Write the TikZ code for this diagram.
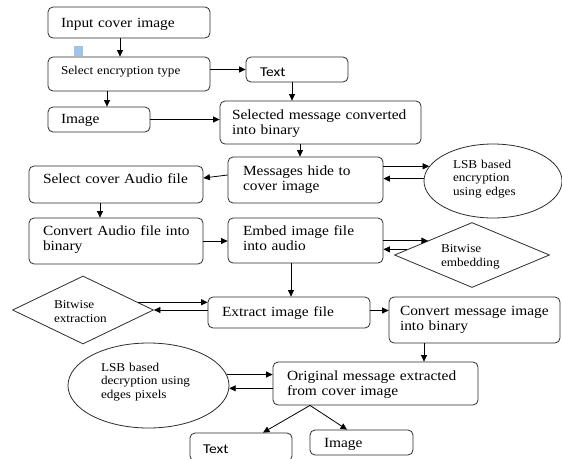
\documentclass[tikz,border=0pt]{standalone}
\usepackage{fontspec}
\setmainfont{Liberation Serif}[FakeStretch=1.1]
\newfontfamily\sansfam{Carlito}[FakeStretch=1.15]
\usetikzlibrary{arrows.meta,shapes.geometric}
\definecolor{lineclr}{RGB}{45,45,45}
\definecolor{blueart}{RGB}{158,196,234}
\begin{document}
\begin{tikzpicture}[x=1pt,y=-1pt,
  >={Triangle[length=6.5pt,width=6pt]},
  box/.style={draw=lineclr, line width=0.8pt, rounded corners=5pt, inner sep=0pt, align=left,
              font=\fontsize{14}{15}\selectfont},
  small/.style={font=\fontsize{12}{13.5}\selectfont},
  sans/.style={font=\sansfam\fontsize{13.5}{15}\selectfont},
  ell/.style={draw=lineclr, line width=0.8pt, ellipse, inner sep=0pt, align=left,
              font=\fontsize{12}{13.5}\selectfont},
  dia/.style={draw=lineclr, line width=0.8pt, diamond, inner sep=0pt, align=left,
              font=\fontsize{12}{13.5}\selectfont},
  arr/.style={->, draw=black, line width=0.8pt}]
\useasboundingbox (0,0) rectangle (562,458);
\fill[white] (0,0) rectangle (562,458);
\fill[blueart] (74,46) rectangle (83,56);

\node[box, minimum width=162pt, minimum height=31pt, text width=136pt, text height=20pt, text depth=11pt] (n1) at (129,22.5) {Input cover image};
\node[box, small, minimum width=162pt, minimum height=34pt, text width=136pt, text height=17.5pt, text depth=16.5pt] (n2) at (129,74) {Select encryption type};
\node[box, sans, minimum width=102pt, minimum height=25pt, text width=74pt, text height=19pt, text depth=6pt] (n3) at (297,69.5) {Text};
\node[box, minimum width=102pt, minimum height=25pt, text width=76pt, text height=16pt, text depth=9pt] (n4) at (99,119.5) {Image};
\node[box, minimum width=201pt, minimum height=43pt, text width=177pt, text height=18pt, text depth=25pt] (n5) at (320.5,122.5) {\mbox{Selected message converted}\\into binary};
\node[box, minimum width=155pt, minimum height=46pt, text width=125pt, text height=18pt, text depth=28pt] (n6) at (305.5,180) {Messages hide to\\cover image};
\node[ell, minimum width=138pt, minimum height=74pt, text width=80pt, text height=7pt, text depth=33pt] (e1) at (493,181) {LSB based\\encryption\\using edges};
\node[box, minimum width=174pt, minimum height=37pt, text width=146pt, text height=17pt, text depth=20pt] (n8) at (116,184.5) {Select cover Audio file};
\node[box, minimum width=174pt, minimum height=46pt, text width=146pt, text height=17pt, text depth=29pt] (n9) at (116,241) {\mbox{Convert Audio file into}\\binary};
\node[box, minimum width=155pt, minimum height=45pt, text width=125pt, text height=17pt, text depth=28pt] (n10) at (305.5,240.5) {Embed image file\\into audio};
\node[dia, minimum width=155pt, minimum height=65pt, shape aspect=2.4, text width=62pt, text height=12.7pt, text depth=17.3pt] (d1) at (472,255) {Bitwise\\embedding};
\node[dia, minimum width=141pt, minimum height=68pt, shape aspect=2.07, text width=58pt, text height=10.7pt, text depth=13.3pt] (d2) at (83,310) {Bitwise\\extraction};
\node[box, minimum width=162pt, minimum height=31pt, text width=134pt, text height=19pt, text depth=12pt] (n13) at (289,312.5) {Extract image file};
\node[box, minimum width=171pt, minimum height=46pt, text width=149pt, text height=18pt, text depth=28pt] (n14) at (474.5,320) {\mbox{Convert message image}\\into binary};
\node[ell, minimum width=161pt, minimum height=85pt, text width=95pt, text height=7.5pt, text depth=36.5pt] (e2) at (148.5,385.5) {LSB based\\decryption using\\edges pixels};
\node[box, minimum width=205pt, minimum height=43pt, text width=177pt, text height=18pt, text depth=25pt] (n16) at (375.5,383.5) {\mbox{Original message extracted}\\from cover image};
\node[box, sans, minimum width=102pt, minimum height=28pt, text width=76pt, text height=20pt, text depth=8pt] (n17) at (241,447) {Text};
\node[box, minimum width=103pt, minimum height=25pt, text width=75pt, text height=17pt, text depth=8pt] (n18) at (361.5,442.5) {Image};

\draw[arr] ([xshift=-9pt]n1.south) -- ([xshift=-9pt]n2.north);
\draw[arr] (n2.east |- n3.west) -- (n3.west);
\draw[arr] ([xshift=-5pt]n3.south) -- ([xshift=-5pt]n3.south |- n5.north);
\draw[arr] ([xshift=-22pt]n2.south) -- ([xshift=-22pt]n2.south |- n4.north);
\draw[arr] (n4.east) -- (n4.east -| n5.west);
\draw[arr] ([xshift=-20.5pt]n5.south) -- ([xshift=-20.5pt]n5.south |- n6.north);
\draw[arr] (n6.east |- e1.167) -- (e1.167);
\draw[arr] (e1.178) -- (n6.east |- e1.178);
\draw[arr] ([yshift=5pt]n6.west) -- ([yshift=6.5pt]n8.east);
\draw[arr] ([xshift=-16pt]n8.south) -- ([xshift=-16pt]n9.north);
\draw[arr] (n9.east) -- (n9.east -| n10.west);
\draw[arr] (n10.east |- d1.162) -- (d1.162);
\draw[arr] (d1.175) -- (n10.east |- d1.175);
\draw[arr] ([xshift=-14.5pt]n10.south) -- ([xshift=-14.5pt]n10.south |- n13.north);
\draw[arr] (d2.8) -- (d2.8 -| n13.west);
\draw[arr] (n13.west |- d2.east) -- (d2.east);
\draw[arr] ([yshift=2pt]n13.east) -- ([yshift=2pt]n13.east -| n14.west);
\draw[arr] ([xshift=-50.5pt]n14.south) -- ([xshift=-50.5pt]n14.south |- n16.north);
\draw[arr] (e2.8) -- (e2.8 -| n16.west);
\draw[arr] (n16.west |- e2.358) -- (e2.358);
\draw[arr] ([xshift=-65.5pt]n16.south) -- ([xshift=22pt]n17.north);
\draw[arr] ([xshift=-65.5pt]n16.south) -- ([xshift=-14.5pt]n18.north);
\end{tikzpicture}
\end{document}
